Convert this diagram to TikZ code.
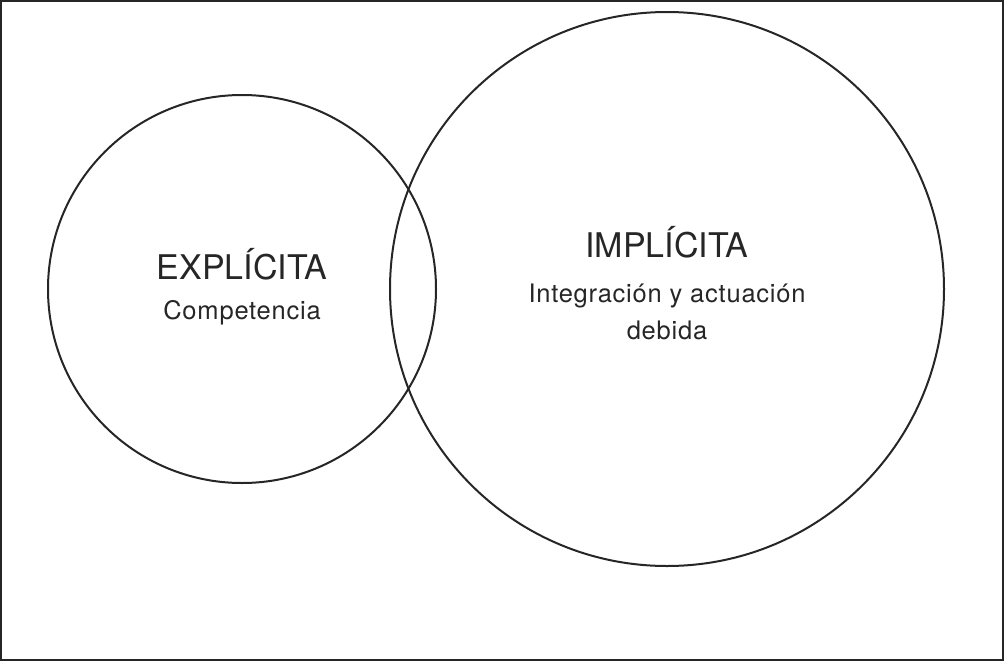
\documentclass[tikz,border=0pt]{standalone}
\usepackage{fontspec}
\setmainfont{TeX Gyre Heros}
\newfontfamily\subfont[LetterSpace=3]{TeX Gyre Heros}
\begin{document}
\begin{tikzpicture}[x=1pt,y=-1pt,
  ring/.style={draw=black!85,line width=2pt},
  title/.style={anchor=base,font=\fontsize{34}{40}\selectfont,text=black!85,inner sep=0pt},
  sub/.style={anchor=base,font=\subfont\fontsize{25.5}{37}\selectfont,text=black!85,inner sep=0pt,align=center}]
\useasboundingbox (0,0) rectangle (1005,662);
\draw[draw=black!85,line width=2pt] (1,1) rectangle (1003,660);
\node[ring,circle,minimum size=388pt,inner sep=0pt] (left) at (242,289) {};
\node[ring,circle,minimum size=554pt,inner sep=0pt] (right) at (667,289) {};
\node[title] (exp) at (242,279) {EXPLÍCITA};
\node[sub] (comp) at (242,319) {Competencia};
\node[title] (imp) at (667,257) {IMPLÍCITA};
\node[sub] (int) at (667,302) {Integración y actuación};
\node[sub] (deb) at (667,339) {debida};
\end{tikzpicture}
\end{document}
